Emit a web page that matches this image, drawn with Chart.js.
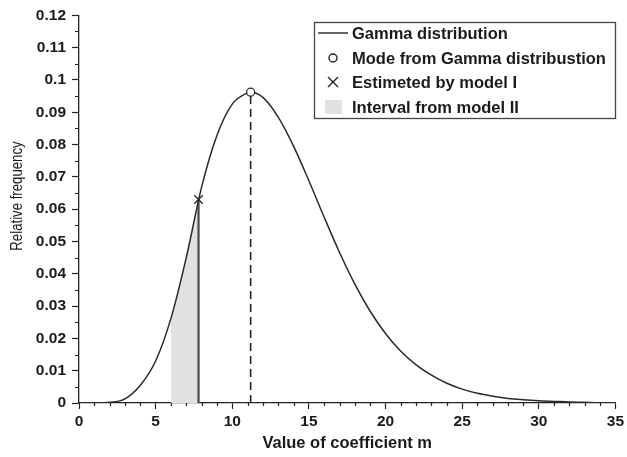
<!DOCTYPE html>
<html>
<head>
<meta charset="utf-8">
<script src="https://cdn.jsdelivr.net/npm/chart.js@4.4.1/dist/chart.umd.min.js"></script>
<style>
  html, body { margin: 0; padding: 0; background: #ffffff; }
  #wrap { width: 627px; height: 457px; }
</style>
</head>
<body>
<div id="wrap"><canvas id="graficaGamma" width="627" height="457"></canvas></div>
<script>
// values
const xValues = [0, 1, 2, 3, 4, 5, 6, 7, 8, 9, 10, 11, 11.2, 12, 13, 14, 15, 16, 17, 18, 19, 20,
                 21, 22, 23, 24, 25, 26, 27, 28, 29, 30, 31, 32, 33, 34, 35];
const frequency = [0, 0.00001, 0.0002, 0.0013, 0.0055, 0.0130, 0.0262, 0.0450, 0.0668, 0.0828, 0.0925, 0.0960, 0.0962,
                   0.0946, 0.0885, 0.0795, 0.0688, 0.0575, 0.0466, 0.0368, 0.0284, 0.0215,
                   0.0160, 0.0118, 0.0086, 0.0061, 0.0043, 0.0030, 0.0021, 0.0014, 0.0010, 0.0007, 0.0005, 0.0003, 0.0002, 0.0001, 0.0001];

const intervalX = [6.0, 6.5, 7.0, 7.5, 7.8];
const intervalY = [0.0262, 0.0355, 0.0450, 0.0565, 0.0630];

const modeX = 11.2;
const modeY = 0.0962;
const estimatedX = 7.8;
const estimatedY = 0.063;

const xTicks = [0, 5, 10, 15, 20, 25, 30, 35];
const yTicks = [0, 0.01, 0.02, 0.03, 0.04, 0.05, 0.06, 0.07, 0.08, 0.09, 0.1, 0.11, 0.12];

const legendLabels = ['Gamma distribution', 'Mode from Gamma distribustion', 'Estimeted by model I', 'Interval from model II'];
const yTitle = 'Relative frequency';
const xTitle = 'Value of coefficient m';

const puntos = (xs, ys) => xs.map((x, i) => ({ x: x, y: ys[i] }));
const FONT = "'Liberation Sans', Arial, sans-serif";
const INK = '#222222';

document.addEventListener('DOMContentLoaded', function() {

    const ticksMenores = {
        id: 'ticksMenores',
        afterDraw: function(grafica) {
            const ctx = grafica.ctx;
            const sx = grafica.scales.x;
            const sy = grafica.scales.y;
            ctx.save();
            ctx.strokeStyle = INK;
            ctx.lineWidth = 1.2;
            ctx.beginPath();
            for (let i = 0; i < yTicks.length - 1; i++) {
                const py = Math.round(sy.getPixelForValue((yTicks[i] + yTicks[i + 1]) / 2)) + 0.5;
                ctx.moveTo(sx.left, py);
                ctx.lineTo(sx.left - 4, py);
            }
            for (let v = 1; v < 35; v++) {
                if (v % 5 === 0) continue;
                const px = Math.round(sx.getPixelForValue(v)) + 0.5;
                ctx.moveTo(px, sy.bottom);
                ctx.lineTo(px, sy.bottom + 3);
            }
            ctx.stroke();

            // y axis title, narrow like the original
            ctx.translate(17, 196);
            ctx.rotate(-Math.PI / 2);
            ctx.scale(0.8, 1);
            ctx.fillStyle = '#1a1a1a';
            ctx.font = '16.5px ' + FONT;
            ctx.textAlign = 'center';
            ctx.textBaseline = 'middle';
            ctx.fillText(yTitle, 0, 0);
            ctx.restore();
        }
    };

    const leyenda = {
        id: 'leyenda',
        afterDraw: function(grafica) {
            const ctx = grafica.ctx;
            ctx.save();
            ctx.strokeStyle = '#444444';
            ctx.lineWidth = 1.3;
            ctx.strokeRect(314.5, 22.5, 301, 96);

            const filas = [33, 58, 82, 107];
            const sx = 333;
            ctx.strokeStyle = INK;
            ctx.lineWidth = 1.4;
            ctx.beginPath();
            ctx.moveTo(318, filas[0]);
            ctx.lineTo(348, filas[0]);
            ctx.stroke();
            ctx.beginPath();
            ctx.arc(sx, filas[1], 4, 0, Math.PI * 2);
            ctx.fillStyle = '#ffffff';
            ctx.fill();
            ctx.stroke();
            ctx.beginPath();
            ctx.moveTo(sx - 5, filas[2] - 5); ctx.lineTo(sx + 5, filas[2] + 5);
            ctx.moveTo(sx + 5, filas[2] - 5); ctx.lineTo(sx - 5, filas[2] + 5);
            ctx.stroke();
            ctx.fillStyle = '#e2e2e2';
            ctx.fillRect(325, filas[3] - 7, 17, 14);

            ctx.fillStyle = '#1a1a1a';
            ctx.font = 'bold 16.5px ' + FONT;
            ctx.textBaseline = 'middle';
            ctx.textAlign = 'left';
            legendLabels.forEach((t, i) => ctx.fillText(t, 352, filas[i] + 1));
            ctx.restore();
        }
    };

    const contexto = document.getElementById('graficaGamma');
    new Chart(contexto, {
        type: 'scatter',
        data: {
            datasets: [{
                label: legendLabels[3],
                data: puntos(intervalX, intervalY),
                showLine: true,
                fill: 'origin',
                backgroundColor: '#e2e2e2',
                borderWidth: 0,
                pointRadius: 0,
                order: 6
            }, {
                label: 'dashed',
                data: [{ x: modeX, y: 0 }, { x: modeX, y: modeY }],
                showLine: true,
                borderColor: INK,
                borderWidth: 1.6,
                borderDash: [8, 5],
                pointRadius: 0,
                order: 4
            }, {
                label: 'solid',
                data: [{ x: estimatedX, y: 0 }, { x: estimatedX, y: estimatedY }],
                showLine: true,
                borderColor: '#4a4a4a',
                borderWidth: 2.2,
                pointRadius: 0,
                order: 4
            }, {
                label: legendLabels[0],
                data: puntos(xValues, frequency),
                showLine: true,
                cubicInterpolationMode: 'monotone',
                borderColor: '#2a2a2a',
                borderWidth: 1.5,
                pointRadius: 0,
                order: 2
            }, {
                label: legendLabels[1],
                data: [{ x: modeX, y: modeY }],
                pointStyle: 'circle',
                pointRadius: 4,
                backgroundColor: '#ffffff',
                borderColor: INK,
                borderWidth: 1.2,
                order: 1
            }, {
                label: legendLabels[2],
                data: [{ x: estimatedX, y: estimatedY }],
                pointStyle: 'crossRot',
                pointRadius: 6,
                borderColor: INK,
                borderWidth: 1.3,
                order: 1
            }]
        },
        options: {
            responsive: false,
            animation: false,
            layout: { padding: { top: 15, right: 5, bottom: 0, left: 0 } },
            plugins: {
                legend: { display: false },
                tooltip: { enabled: false }
            },
            scales: {
                x: {
                    type: 'linear',
                    min: 0,
                    max: 35,
                    afterBuildTicks: s => { s.ticks = xTicks.map(v => ({ value: v })); },
                    afterFit: s => { s.height = 54; },
                    border: { display: true, color: INK, width: 1.3 },
                    grid: { display: true, drawOnChartArea: false, tickLength: 6, tickColor: INK, tickWidth: 1.2 },
                    ticks: { color: '#1a1a1a', padding: 3, maxRotation: 0, font: { family: FONT, size: 15.5, weight: 'bold' } },
                    title: { display: true, text: xTitle, color: '#1a1a1a', padding: { top: 1 }, font: { family: FONT, size: 16.5, weight: 'bold' } }
                },
                y: {
                    min: 0,
                    max: 0.12,
                    afterBuildTicks: s => { s.ticks = yTicks.map(v => ({ value: v })); },
                    afterFit: s => { s.width = 79; },
                    border: { display: true, color: INK, width: 1.3 },
                    grid: { display: true, drawOnChartArea: false, tickLength: 7, tickColor: INK, tickWidth: 1.2 },
                    ticks: {
                        color: '#1a1a1a',
                        padding: 6,
                        font: { family: FONT, size: 15.5, weight: 'bold' },
                        callback: v => String(+v.toFixed(2))
                    },
                    title: { display: false }
                }
            }
        },
        plugins: [ticksMenores, leyenda]
    });
});
</script>
</body>
</html>
